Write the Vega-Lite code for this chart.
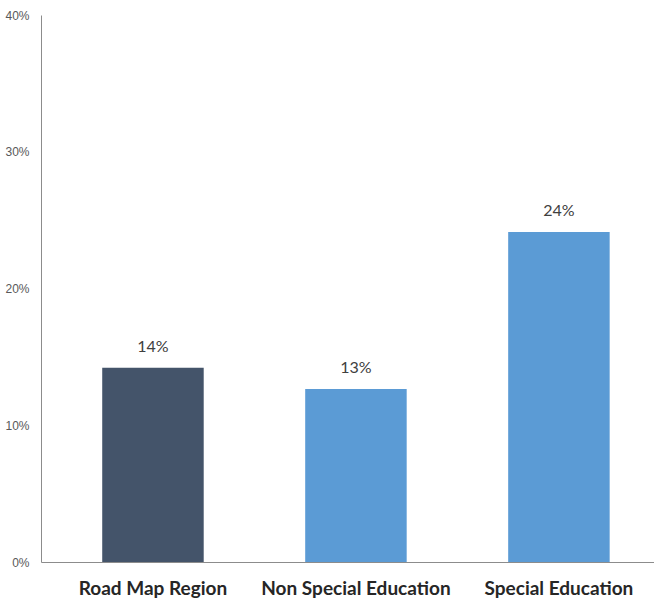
{
  "$schema": "https://vega.github.io/schema/vega-lite/v6.json",
  "width": 613,
  "height": 547,
  "autosize": {"type": "none"},
  "padding": {"left": 41, "top": 15, "right": 0, "bottom": 40},
  "background": "white",
  "config": {"view": {"stroke": null}},
  "data": {
    "values": [
      {"group": "Road Map Region", "value": 0.142, "label": "14%", "kind": "region"},
      {"group": "Non Special Education", "value": 0.1265, "label": "13%", "kind": "other"},
      {"group": "Special Education", "value": 0.2413, "label": "24%", "kind": "other"}
    ]
  },
  "encoding": {
    "x": {
      "field": "group",
      "type": "nominal",
      "sort": null,
      "scale": {"paddingInner": 0.5, "paddingOuter": 0.26, "align": 0.58},
      "axis": {
        "title": null,
        "labelAngle": 0,
        "labelFont": "Lato",
        "labelFontWeight": "bold",
        "labelFontSize": 19,
        "labelColor": "#262626",
        "labelPadding": 17,
        "labelOverlap": false,
        "labelLimit": 400,
        "ticks": false,
        "domainColor": "#8c8c8c",
        "domainWidth": 1,
        "grid": false
      }
    },
    "y": {
      "field": "value",
      "type": "quantitative",
      "scale": {"domain": [0, 0.4], "nice": false},
      "axis": {
        "title": null,
        "format": ".0%",
        "values": [0, 0.1, 0.2, 0.3, 0.4],
        "labelOverlap": false,
        "labelFont": "Liberation Sans",
        "labelFontSize": 12,
        "labelColor": "#595959",
        "labelPadding": 12,
        "ticks": false,
        "grid": false,
        "domainColor": "#8c8c8c",
        "domainWidth": 1
      }
    }
  },
  "layer": [
    {
      "mark": {"type": "bar"},
      "encoding": {
        "color": {
          "field": "kind",
          "type": "nominal",
          "scale": {"domain": ["region", "other"], "range": ["#44546A", "#5B9BD5"]},
          "legend": null
        }
      }
    },
    {
      "mark": {"type": "text", "dy": -21, "font": "Lato", "fontSize": 16, "color": "#404040"},
      "encoding": {"text": {"field": "label"}}
    }
  ]
}
